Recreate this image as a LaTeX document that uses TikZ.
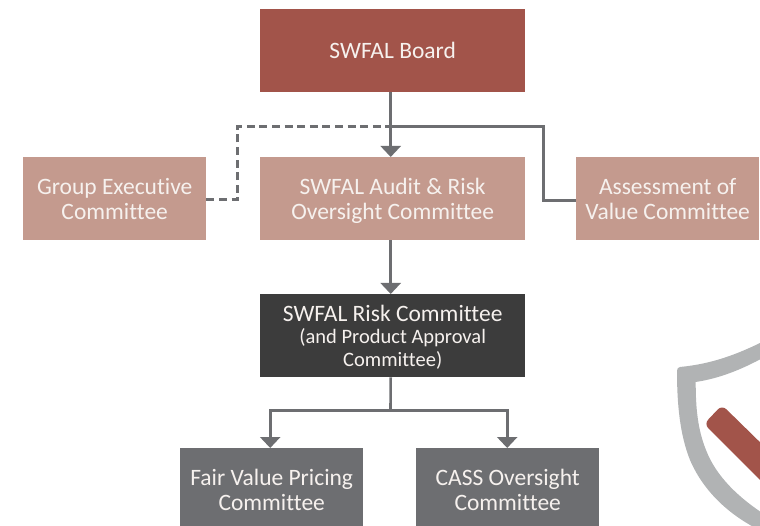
\documentclass[tikz,border=0pt]{standalone}
\usepackage{fontspec}
\setmainfont[Ligatures=NoCommon]{Carlito}
\usetikzlibrary{arrows.meta,calc}
\definecolor{boardred}{HTML}{A2544A}
\definecolor{audit}{HTML}{C49A8E}
\definecolor{riskdark}{HTML}{3C3C3C}
\definecolor{greybox}{HTML}{6D6E71}
\definecolor{shieldgrey}{HTML}{B1B3B4}
\definecolor{boxtext}{HTML}{F6F1EE}
\newcommand{\nodepth}[1]{\raisebox{0pt}[\height][0pt]{#1}}
\newcommand{\subsize}{\fontsize{20.5}{23}\selectfont}
\tikzset{
  box/.style={draw=none,minimum height=83pt,inner sep=0pt,align=center,text=boxtext,anchor=north west,
    font=\fontsize{23.5}{25}\selectfont},
  wide/.style={box,minimum width=265pt},
  narrow/.style={box,minimum width=183pt},
  link/.style={draw=greybox,line width=2.6pt},
  linkarrow/.style={link,-{Triangle[width=20pt,length=11pt]}}
}
\begin{document}
\begin{tikzpicture}[x=1pt,y=-1pt]
\useasboundingbox (0,0) rectangle (760,526);
\begin{scope}
\clip (0,0) rectangle (760,526);
% shield
\fill[shieldgrey] (677,371) .. controls (677,368.5) and (678,367.5) .. (680,367)
  .. controls (710,364) and (735,356) .. (770,338)
  -- (770,354) .. controls (745,368) and (722,378) .. (695.7,382)
  .. controls (695.7,410) and (698,430) .. (706,450)
  .. controls (716,476) and (738,498) .. (770,518)
  -- (770,535) .. controls (735,520) and (705,495) .. (690,460)
  .. controls (680,435) and (677,405) .. (677,371) -- cycle;
\fill[boardred,rounded corners=6pt] (722,405) -- (770,452) -- (770,490) -- (704,424) -- cycle;
\end{scope}
% boxes
\node[wide,fill=boardred] (board) at (260,9) {SWFAL Board};
\node[wide,fill=audit] (audit) at (260,157) {SWFAL Audit \& Risk\\\nodepth{Oversight Committee}};
\node[narrow,fill=audit] (group) at (23,157) {Group Executive\\Committee};
\node[narrow,fill=audit] (value) at (576,157) {Assessment of\\Value Committee};
\node[wide,fill=riskdark] (risk) at (260,294) {SWFAL Risk Committee\\[-3pt]{\subsize (and Product Approval}\\[-2pt]\nodepth{\subsize Committee)}};
\node[narrow,fill=greybox] (fair) at (180,448) {Fair Value Pricing\\Committee};
\node[narrow,fill=greybox] (cass) at (416,448) {CASS Oversight\\Committee};
% junctions
\coordinate (m1) at ($(board.south)+(-2,0)$);
\coordinate (m2) at ($(audit.north)+(-2,0)$);
\coordinate (m3) at ($(audit.south)+(-2,0)$);
\coordinate (m4) at ($(risk.north)+(-2,0)$);
\coordinate (m5) at ($(risk.south)+(-2,0)$);
\coordinate (j) at (390.5,126.5);
\coordinate (dl) at (237.5,126.5);
\coordinate (dd) at (237.5,199.5);
\coordinate (sr) at (543.5,126.5);
\coordinate (sd) at (543.5,200.5);
\coordinate (k) at (390.5,410.5);
\coordinate (fa) at ($(fair.north)+(-1.5,0)$);
\coordinate (ca) at ($(cass.north)+(-0.5,0)$);
% connectors
\draw[link,dash pattern=on 8pt off 4.6pt] (group.east |- dd) -- (dd) -- (dl) -- (j);
\draw[link] (j) -- (sr) -- (sd) -- (value.west |- sd);
\draw[linkarrow] (m1) -- (m2);
\draw[linkarrow] (m3) -- (m4);
\draw[link] (m5) -- (k);
\draw[linkarrow] (k) -| (fa);
\draw[linkarrow] (k) -| (ca);
\end{tikzpicture}
\end{document}
